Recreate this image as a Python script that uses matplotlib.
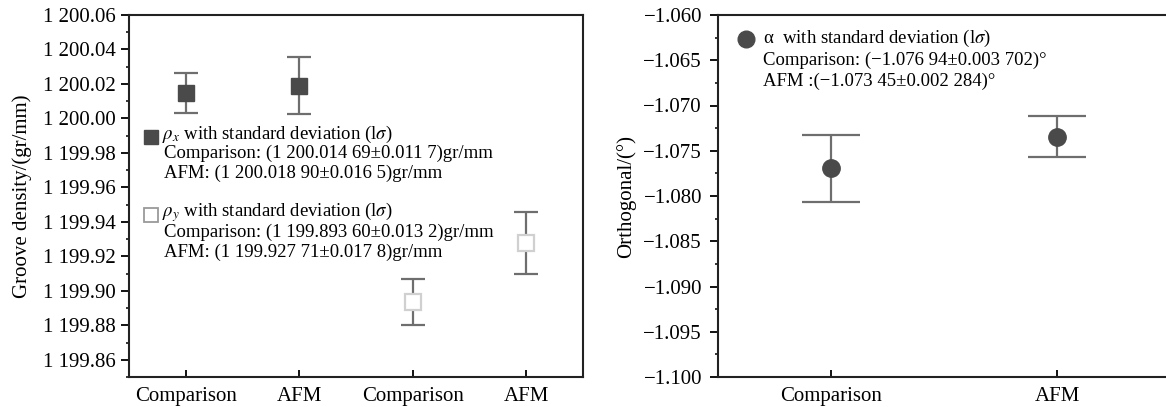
import numpy as np
import matplotlib.pyplot as plt
from matplotlib.ticker import FuncFormatter, MultipleLocator

plt.rcParams['font.family'] = ['Liberation Serif', 'DejaVu Serif']
plt.rcParams['mathtext.fontset'] = 'stix'

cats_left = ['Comparison', 'AFM', 'Comparison', 'AFM']
rho_x = [1200.01469, 1200.01890]
rho_x_err = [0.0117, 0.0165]
rho_y = [1199.89360, 1199.92771]
rho_y_err = [0.0132, 0.0178]

cats_right = ['Comparison', 'AFM']
alpha = [-1.07694, -1.07345]
alpha_err = [0.003702, 0.002284]

dark = '#4a4a4a'
bar = '#6e6e6e'
fs = 15
tf = 13.5

fig = plt.figure(figsize=(11.66, 4.07), dpi=100)
ax1 = fig.add_axes([129/1166, 30/407, 454/1166, 362/407])
ax2 = fig.add_axes([718/1166, 30/407, 452/1166, 362/407])

ax1.errorbar([1, 2], rho_x, yerr=rho_x_err, fmt='s', ms=11, mfc=dark, mec=dark,
             ecolor=bar, elinewidth=1.6, capsize=8.5, capthick=1.6)
ax1.errorbar([3, 4], rho_y, yerr=rho_y_err, fmt='s', ms=11, mfc='white', mec='#d0d0d0',
             mew=1.6, ecolor=bar, elinewidth=1.6, capsize=8.5, capthick=1.6)
ax1.set_xlim(0.5, 4.5)
ax1.set_ylim(1199.85, 1200.06)
ax1.set_xticks([1, 2, 3, 4])
ax1.set_xticklabels(cats_left)
ax1.yaxis.set_major_locator(MultipleLocator(0.02))
ax1.yaxis.set_minor_locator(MultipleLocator(0.01))
ax1.yaxis.set_major_formatter(FuncFormatter(lambda v, p: f"{v:,.2f}".replace(',', ' ')))
ax1.set_ylabel('Groove density/(gr/mm)', fontsize=fs)
ax1.yaxis.set_label_coords(-0.214, 0.5)

ax2.errorbar([1, 2], alpha, yerr=alpha_err, fmt='o', ms=12.5, mfc=dark, mec=dark,
             ecolor=bar, elinewidth=1.6, capsize=21, capthick=1.6)
ax2.set_xlim(0.5, 2.5)
ax2.set_ylim(-1.100, -1.060)
ax2.set_xticks([1, 2])
ax2.set_xticklabels(cats_right)
ax2.yaxis.set_major_locator(MultipleLocator(0.005))
ax2.yaxis.set_minor_locator(MultipleLocator(0.0025))
ax2.yaxis.set_major_formatter(FuncFormatter(lambda v, p: f"{v:.3f}".replace('-', '\u2212')))
ax2.set_ylabel('Orthogonal/(°)', fontsize=fs)
ax2.yaxis.set_label_coords(-0.181, 0.5)

for ax in (ax1, ax2):
    ax.tick_params(axis='y', which='major', direction='out', length=5.5, width=1.3,
                   labelsize=fs, pad=4)
    ax.tick_params(axis='y', which='minor', direction='out', length=2.5, width=1.1)
    ax.tick_params(axis='x', direction='in', length=5, width=1.3, labelsize=fs, pad=7)
    for s in ax.spines.values():
        s.set_linewidth(1.5)
        s.set_color('#222222')
ax2.tick_params(axis='y', which='major', pad=6)

# left annotation
T = ax1.transAxes
ax1.plot([0.048], [0.663], 's', ms=10, color=dark, transform=T, clip_on=False)
ax1.text(0.072, 0.669, r'$\rho_x$ with standard deviation (l$\sigma$)', fontsize=tf,
         va='center', transform=T)
ax1.text(0.078, 0.617, 'Comparison: (1 200.014 69±0.011 7)gr/mm', fontsize=tf,
         va='center', transform=T)
ax1.text(0.078, 0.562, 'AFM: (1 200.018 90±0.016 5)gr/mm', fontsize=tf,
         va='center', transform=T)
ax1.plot([0.048], [0.448], 's', ms=10, mfc='white', mec='#9a9a9a', mew=1.3,
         transform=T, clip_on=False)
ax1.text(0.072, 0.455, r'$\rho_y$ with standard deviation (l$\sigma$)', fontsize=tf,
         va='center', transform=T)
ax1.text(0.078, 0.399, 'Comparison: (1 199.893 60±0.013 2)gr/mm', fontsize=tf,
         va='center', transform=T)
ax1.text(0.078, 0.343, 'AFM: (1 199.927 71±0.017 8)gr/mm', fontsize=tf,
         va='center', transform=T)

# right annotation
T2 = ax2.transAxes
ax2.plot([0.061], [0.934], 'o', ms=12, color=dark, transform=T2, clip_on=False)
ax2.text(0.0996, 0.934, r'α  with standard deviation (l$\sigma$)', fontsize=tf,
         va='center', transform=T2)
ax2.text(0.0996, 0.876, 'Comparison: (\u22121.076 94±0.003 702)°', fontsize=tf,
         va='center', transform=T2)
ax2.text(0.0996, 0.818, 'AFM :(\u22121.073 45±0.002 284)°', fontsize=tf,
         va='center', transform=T2)

fig.savefig('out.png', dpi=100)
